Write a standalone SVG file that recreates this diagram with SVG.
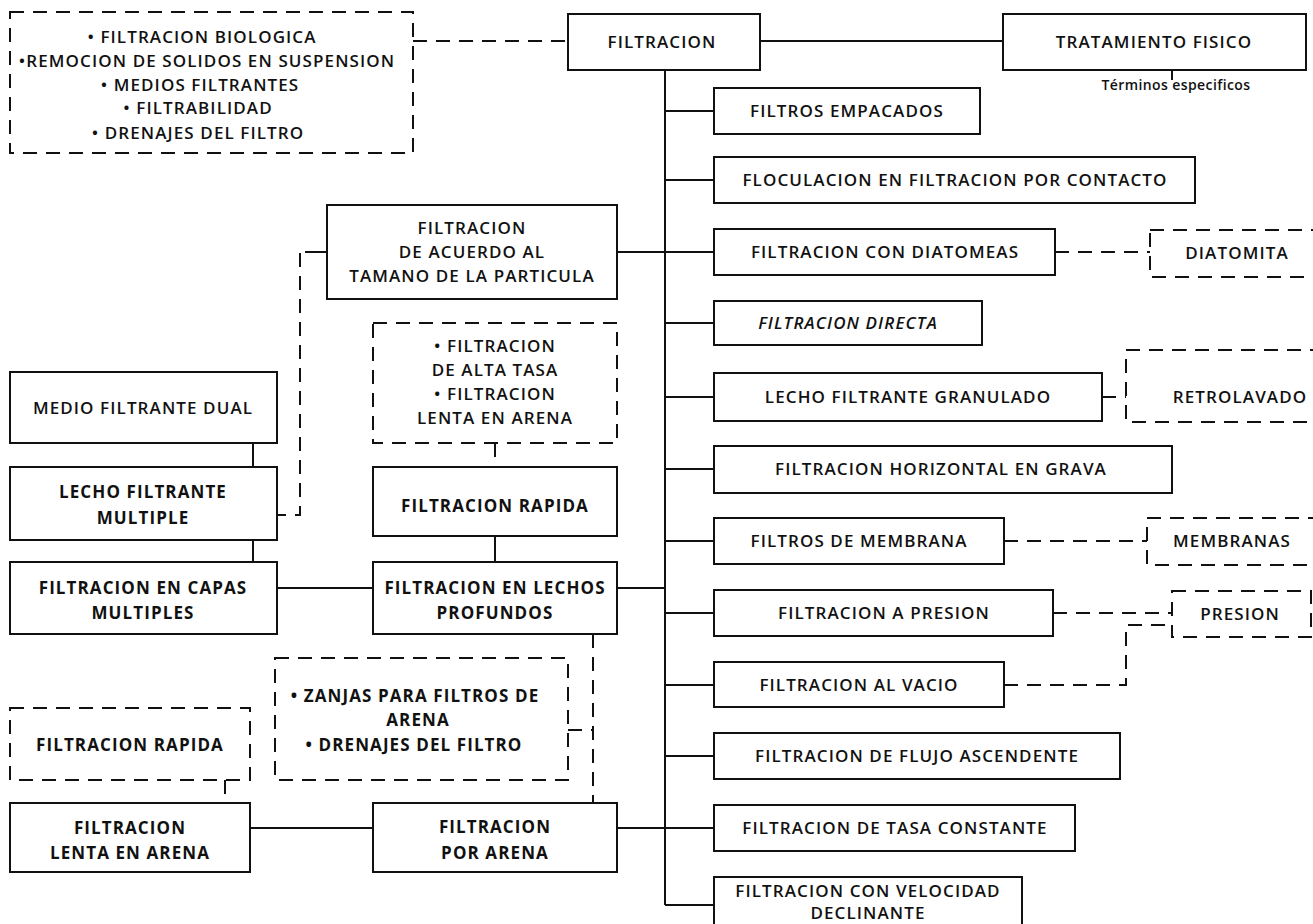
<svg xmlns="http://www.w3.org/2000/svg" width="1313" height="924" viewBox="0 0 1313 924">
<style>
.bx{fill:#fff;stroke:#111;stroke-width:2}
.dbx{fill:none;stroke:#111;stroke-width:2;stroke-dasharray:14 9}
.ln{fill:none;stroke:#111;stroke-width:2}
.dl{fill:none;stroke:#111;stroke-width:2;stroke-dasharray:14 9}
text{font-family:"Open Sans","Liberation Sans",sans-serif;font-size:17px;font-weight:600;fill:#111;text-anchor:middle;letter-spacing:1.1px}
.b{font-weight:700}
.it{font-style:italic}
.sm{font-size:14px;letter-spacing:0.4px}
</style>
<rect width="1313" height="924" fill="#fff"/>
<g id="connectors">
<path class="dl" d="M413 41H568"/>
<path class="ln" d="M760 41H1003"/>
<path class="ln" d="M1172 71V80"/>
<path class="ln" d="M665 70V905"/>
<path class="ln" d="M665 111H714M665 180H714M617 252H714M665 323H714M665 397H714M665 469H714M665 541H714M617 588H665M665 613H714M665 685H714M665 756H714M617 828H714M665 905H714"/>
<path class="ln" d="M305 252H327"/>
<path class="dl" d="M300 253V515H278"/>
<path class="dl" d="M495 443V467"/>
<path class="ln" d="M495 536V562"/>
<path class="ln" d="M253 443V467M253 540V562"/>
<path class="ln" d="M277 588H373"/>
<path class="dl" d="M593 634V803"/>
<path class="dl" d="M568 730H593"/>
<path class="dl" d="M225 780V803"/>
<path class="ln" d="M250 828H373"/>
<path class="dl" d="M1055 252H1150"/>
<path class="dl" d="M1102 397H1126"/>
<path class="dl" d="M1004 541H1147"/>
<path class="dl" d="M1053 613H1172"/>
<path class="dl" d="M1004 685H1126V625H1172"/>
</g>
<g id="n-terms">
<rect class="dbx" x="10" y="12" width="403" height="141"/>
<text x="202" y="43">• FILTRACION BIOLOGICA</text>
<text x="207" y="67">•REMOCION DE SOLIDOS EN SUSPENSION</text>
<text x="200" y="91">• MEDIOS FILTRANTES</text>
<text x="198" y="114">• FILTRABILIDAD</text>
<text x="198" y="139">• DRENAJES DEL FILTRO</text>
</g>
<g id="n-filtracion"><rect class="bx" x="568" y="14" width="192" height="56"/><text x="662" y="48">FILTRACION</text></g>
<g id="n-tratamiento"><rect class="bx" x="1003" y="14" width="303" height="56"/><text x="1154" y="48">TRATAMIENTO FISICO</text>
<text class="sm" x="1176" y="90">Términos especificos</text></g>
<g id="n-empacados"><rect class="bx" x="714" y="88" width="266" height="46"/><text x="847" y="117">FILTROS EMPACADOS</text></g>
<g id="n-floculacion"><rect class="bx" x="714" y="157" width="481" height="46"/><text x="955" y="186">FLOCULACION EN FILTRACION POR CONTACTO</text></g>
<g id="n-diatomeas"><rect class="bx" x="714" y="229" width="341" height="46"/><text x="885" y="258">FILTRACION CON DIATOMEAS</text></g>
<g id="n-diatomita"><rect class="dbx" x="1150" y="230" width="180" height="47"/><text x="1237" y="259">DIATOMITA</text></g>
<g id="n-directa"><rect class="bx" x="714" y="301" width="268" height="44"/><text class="it" x="848" y="329">FILTRACION DIRECTA</text></g>
<g id="n-granulado"><rect class="bx" x="714" y="373" width="388" height="48"/><text x="908" y="403">LECHO FILTRANTE GRANULADO</text></g>
<g id="n-retrolavado"><rect class="dbx" x="1126" y="350" width="204" height="72"/><text x="1240" y="403">RETROLAVADO</text></g>
<g id="n-grava"><rect class="bx" x="714" y="446" width="458" height="47"/><text x="941" y="475">FILTRACION HORIZONTAL EN GRAVA</text></g>
<g id="n-membrana"><rect class="bx" x="714" y="518" width="290" height="46"/><text x="859" y="547">FILTROS DE MEMBRANA</text></g>
<g id="n-membranas"><rect class="dbx" x="1147" y="518" width="183" height="47"/><text x="1232" y="547">MEMBRANAS</text></g>
<g id="n-apresion"><rect class="bx" x="714" y="590" width="339" height="46"/><text x="884" y="619">FILTRACION A PRESION</text></g>
<g id="n-presion"><rect class="dbx" x="1172" y="591" width="139" height="46"/><text x="1240" y="620">PRESION</text></g>
<g id="n-vacio"><rect class="bx" x="714" y="662" width="290" height="45"/><text x="859" y="691">FILTRACION AL VACIO</text></g>
<g id="n-flujo"><rect class="bx" x="714" y="733" width="406" height="46"/><text x="917" y="762">FILTRACION DE FLUJO ASCENDENTE</text></g>
<g id="n-tasa"><rect class="bx" x="714" y="805" width="361" height="46"/><text x="895" y="834">FILTRACION DE TASA CONSTANTE</text></g>
<g id="n-velocidad"><rect class="bx" x="714" y="877" width="308" height="60"/><text x="868" y="897">FILTRACION CON VELOCIDAD</text><text x="868" y="919">DECLINANTE</text></g>
<g id="n-acuerdo"><rect class="bx" x="327" y="205" width="290" height="94"/>
<text x="472" y="234">FILTRACION</text><text x="472" y="258">DE ACUERDO AL</text><text x="472" y="282">TAMANO DE LA PARTICULA</text></g>
<g id="n-altatasa"><rect class="dbx" x="373" y="323" width="244" height="120"/>
<text x="495" y="352">• FILTRACION</text><text x="495" y="376">DE ALTA TASA</text><text x="495" y="400">• FILTRACION</text><text x="495" y="424">LENTA EN ARENA</text></g>
<g id="n-rapida"><rect class="bx" x="373" y="467" width="244" height="69"/><text class="b" x="495" y="512">FILTRACION RAPIDA</text></g>
<g id="n-lechos"><rect class="bx" x="373" y="562" width="244" height="72"/><text class="b" x="495" y="594">FILTRACION EN LECHOS</text><text class="b" x="495" y="619">PROFUNDOS</text></g>
<g id="n-dual"><rect class="bx" x="10" y="372" width="267" height="71"/><text x="143" y="414">MEDIO FILTRANTE DUAL</text></g>
<g id="n-multiple"><rect class="bx" x="10" y="467" width="267" height="73"/><text class="b" x="143" y="498">LECHO FILTRANTE</text><text class="b" x="143" y="524">MULTIPLE</text></g>
<g id="n-capas"><rect class="bx" x="10" y="562" width="267" height="72"/><text class="b" x="143" y="594">FILTRACION EN CAPAS</text><text class="b" x="143" y="619">MULTIPLES</text></g>
<g id="n-zanjas"><rect class="dbx" x="275" y="658" width="293" height="122"/>
<text class="b" x="415" y="702">• ZANJAS PARA FILTROS DE</text><text class="b" x="418" y="726">ARENA</text><text class="b" x="414" y="751">• DRENAJES DEL FILTRO</text></g>
<g id="n-rapida2"><rect class="dbx" x="10" y="708" width="240" height="72"/><text class="b" x="130" y="751">FILTRACION RAPIDA</text></g>
<g id="n-lenta"><rect class="bx" x="10" y="803" width="240" height="69"/><text class="b" x="130" y="834">FILTRACION</text><text class="b" x="130" y="859">LENTA EN ARENA</text></g>
<g id="n-arena"><rect class="bx" x="373" y="803" width="244" height="69"/><text class="b" x="495" y="833">FILTRACION</text><text class="b" x="495" y="859">POR ARENA</text></g>
</svg>
